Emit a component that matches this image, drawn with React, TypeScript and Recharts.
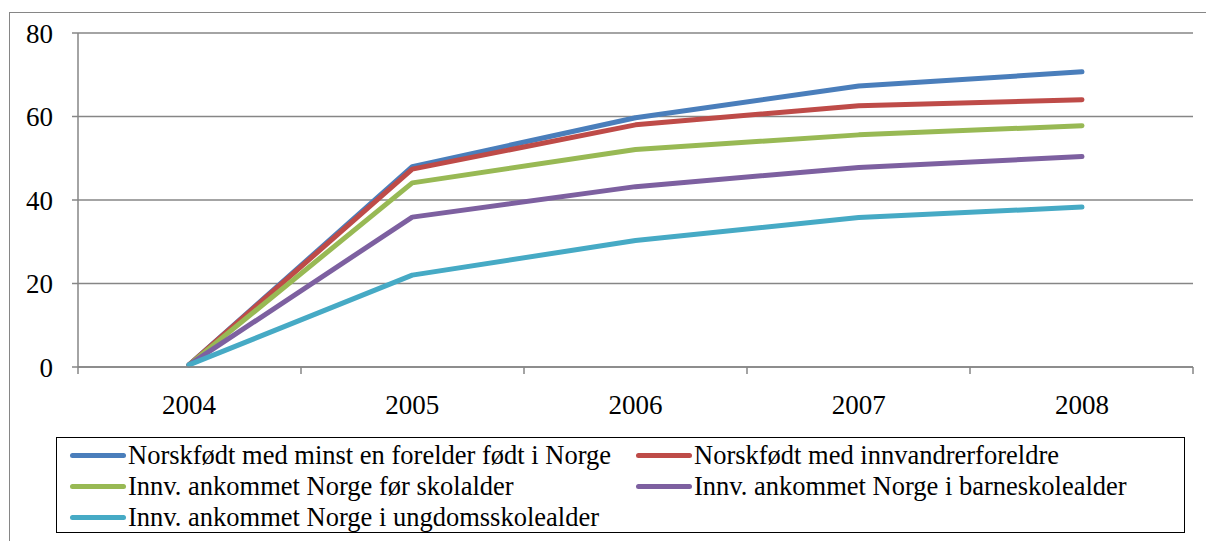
import { CartesianGrid, Line, LineChart, XAxis, YAxis } from 'recharts';

const years = ['2004', '2005', '2006', '2007', '2008'];

const bornParentNorway = [0.5, 48.0, 59.7, 67.3, 70.7];
const bornImmigrantParents = [0.5, 47.4, 58.0, 62.6, 64.0];
const arrivedBeforeSchool = [0.5, 44.1, 52.1, 55.6, 57.8];
const arrivedPrimarySchool = [0.5, 35.9, 43.2, 47.8, 50.4];
const arrivedLowerSecondary = [0.5, 22.0, 30.3, 35.8, 38.3];

const yTicks = [0, 20, 40, 60, 80];
const bandEdges = [0, 1, 2, 3, 4, 5];

type SeriesDef = { key: string; label: string; color: string; values: number[] };

const SERIES: SeriesDef[] = [
  { key: 's1', label: 'Norskfødt med minst en forelder født i Norge', color: '#4a7ebb', values: bornParentNorway },
  { key: 's2', label: 'Norskfødt med innvandrerforeldre', color: '#be4b48', values: bornImmigrantParents },
  { key: 's3', label: 'Innv. ankommet Norge før skolalder', color: '#98b954', values: arrivedBeforeSchool },
  { key: 's4', label: 'Innv. ankommet Norge i barneskolealder', color: '#7d60a0', values: arrivedPrimarySchool },
  { key: 's5', label: 'Innv. ankommet Norge i ungdomsskolealder', color: '#46aac5', values: arrivedLowerSecondary },
];

const data = years.map((year, i) => {
  const row: Record<string, string | number> = { year };
  SERIES.forEach((s) => {
    row[s.key] = s.values[i];
  });
  return row;
});

const FONT =
  "'Liberation Serif', 'Times New Roman', Times, 'Noto Serif', 'DejaVu Serif', FreeSerif, serif";
const AXIS_GRAY = '#868686';
const tickStyle = { fill: '#000', fontSize: 27, fontFamily: FONT };

export default function App() {
  return (
    <div
      style={{
        position: 'fixed',
        left: 0,
        top: 0,
        width: 1206,
        height: 541,
        overflow: 'hidden',
        background: '#fff',
        fontFamily: FONT,
      }}
    >
      {/* outer chart frame, runs off the right and bottom edges */}
      <div
        style={{
          position: 'absolute',
          left: 9,
          top: 12,
          width: 1220,
          height: 560,
          border: `1.5px solid ${AXIS_GRAY}`,
          boxSizing: 'border-box',
        }}
      />
      <div style={{ position: 'absolute', left: 0, top: 0 }}>
        <LineChart width={1206} height={541} data={data} margin={{ top: 33, right: 13, left: 0, bottom: 134 }}>
          <CartesianGrid stroke={AXIS_GRAY} strokeWidth={1.5} vertical={false} />
          {/* axis line with ticks on the category boundaries (closest to the plot) */}
          <XAxis
            xAxisId={0}
            type="number"
            dataKey={() => 0}
            domain={[0, years.length]}
            ticks={bandEdges}
            allowDataOverflow
            tick={() => <g />}
            tickSize={7}
            height={8}
            stroke={AXIS_GRAY}
            strokeWidth={1.5}
            tickLine={{ stroke: AXIS_GRAY, strokeWidth: 1.5 }}
          />
          <XAxis
            xAxisId="cat"
            dataKey="year"
            height={32}
            padding={{ left: 111, right: 111 }}
            axisLine={false}
            tickLine={false}
            tick={tickStyle}
            tickSize={0}
            tickMargin={20}
            interval={0}
          />
          <YAxis
            width={78}
            domain={[0, 80]}
            ticks={yTicks}
            stroke={AXIS_GRAY}
            strokeWidth={1.5}
            tick={tickStyle}
            tickSize={6}
            tickMargin={19}
            tickLine={{ stroke: AXIS_GRAY, strokeWidth: 1.5 }}
          />
          {SERIES.map((s) => (
            <Line
              key={s.key}
              xAxisId="cat"
              type="linear"
              dataKey={s.key}
              name={s.label}
              stroke={s.color}
              strokeWidth={5}
              strokeLinecap="round"
              strokeLinejoin="round"
              dot={false}
              activeDot={false}
              isAnimationActive={false}
            />
          ))}
        </LineChart>
      </div>
      {/* legend */}
      <div
        style={{
          position: 'absolute',
          left: 56,
          top: 437,
          width: 1129,
          height: 96,
          border: '1.5px solid #000',
          boxSizing: 'border-box',
          display: 'grid',
          gridTemplateColumns: '566px 1fr',
          gridAutoRows: '31px',
          paddingTop: 2,
          paddingLeft: 13,
          fontSize: 26.5,
          color: '#000',
        }}
      >
        {SERIES.map((s) => (
          <div key={s.key} style={{ display: 'flex', alignItems: 'center', whiteSpace: 'nowrap' }}>
            <span
              style={{
                display: 'inline-block',
                width: 56,
                height: 5,
                borderRadius: 3,
                background: s.color,
                marginRight: 2,
              }}
            />
            <span>{s.label}</span>
          </div>
        ))}
      </div>
    </div>
  );
}
